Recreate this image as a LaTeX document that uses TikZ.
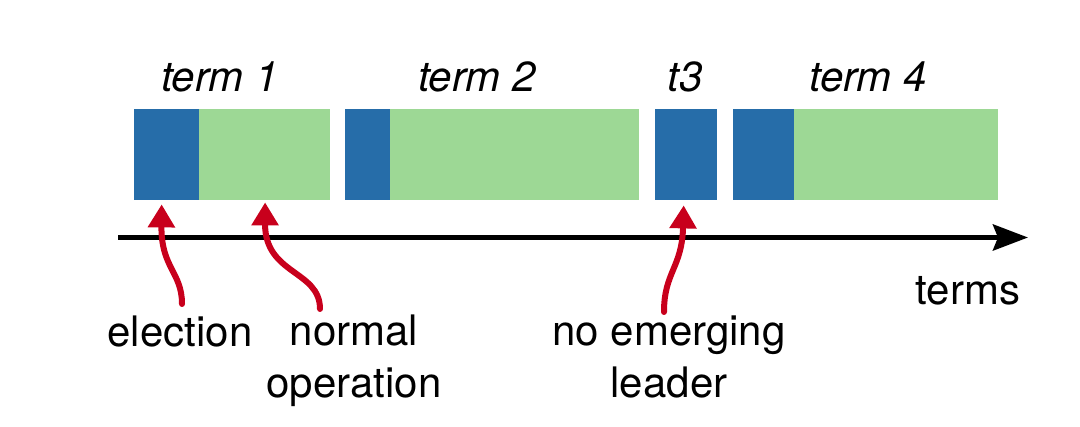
\documentclass[tikz,border=0pt]{standalone}
\usepackage{fontspec}
\setmainfont{TeX Gyre Heros}
\usetikzlibrary{arrows.meta,positioning,calc}

\definecolor{electblue}{RGB}{38,109,169}
\definecolor{opgreen}{RGB}{157,216,149}
\definecolor{arrowred}{RGB}{200,0,28}

\begin{document}
\begin{tikzpicture}[x=1pt,y=-1pt,inner sep=0pt,font=\fontsize{42}{52}\selectfont]
  \tikzset{
    phase/.style={rectangle,minimum height=91pt},
    elect/.style={phase,fill=electblue},
    normal/.style={phase,fill=opgreen},
    termlbl/.style={anchor=base,font=\fontsize{42}{52}\selectfont\itshape},
    note/.style={anchor=base,align=center},
    pointer/.style={draw=arrowred,line width=6pt,line cap=round,-{Triangle[length=23pt,width=26pt]}},
    axis/.style={draw=black,line width=5pt,-{Stealth[length=35pt,width=26pt,inset=5pt]}}
  }
  \useasboundingbox (0,0) rectangle (1080,427);

  % the terms
  \node[elect,minimum width=65pt,anchor=north west] (e1) at (134,109) {};
  \node[normal,minimum width=131pt,right=-1pt of e1] (n1) {};
  \node[elect,minimum width=46pt,right=15pt of n1] (e2) {};
  \node[normal,minimum width=249pt,right=-1pt of e2] (n2) {};
  \node[elect,minimum width=62pt,right=15pt of n2] (e3) {};
  \node[elect,minimum width=61pt,right=16pt of e3] (e4) {};
  \node[normal,minimum width=204pt,right=-1pt of e4] (n4) {};

  \node[termlbl] (t1) at (220,92) {term 1};
  \node[termlbl] (t2) at (477,92) {term 2};
  \node[termlbl] (t3) at (685,92) {t3};
  \node[termlbl] (t4) at (868,92) {term 4};

  % time axis
  \coordinate (ax0) at (118,237.5);
  \coordinate (ax1) at (1028,237.5);
  \draw[axis] (ax0) -- (ax1);
  \node[anchor=base] (terms) at (968,305) {terms};

  % notes (base = last line)
  \node[note] (elect-lbl) at (180,347) {election};
  \node[note] (op-lbl) at (354,398) {normal\\operation};
  \node[note] (none-lbl) at (669,398) {no emerging\\leader};

  \coordinate (p1) at (182,304);
  \coordinate (p2) at (320,309);
  \coordinate (p3) at (664,312);
  \draw[pointer,shorten >=4pt] (p1) .. controls (182,272) and (161,268) .. ([xshift=-5pt]e1.south);
  \draw[pointer,shorten >=2pt] (p2) .. controls (320,270) and (265,275) .. ([xshift=1pt]n1.south);
  \draw[pointer,shorten >=5pt] (p3) .. controls (664,272) and (682,268) .. ([xshift=-2pt]e3.south);
\end{tikzpicture}
\end{document}
